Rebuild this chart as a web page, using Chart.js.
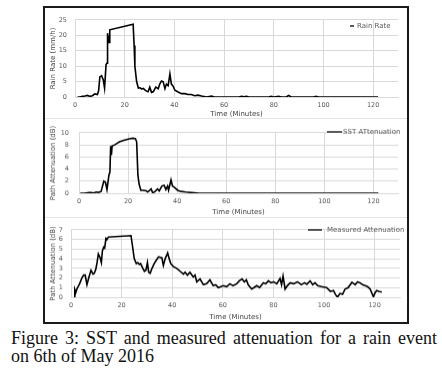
<!DOCTYPE html>
<html>
<head>
<meta charset="utf-8">
<script src="https://cdn.jsdelivr.net/npm/chart.js@4.4.1/dist/chart.umd.min.js"></script>
<style>
  html, body { margin: 0; padding: 0; background: #fff; width: 442px; height: 371px; overflow: hidden; }
  #box { position: absolute; left: 43px; top: 6px; width: 362px; height: 314px; border: 2px solid #1a1a1a; }
  canvas { position: absolute; left: 45px; }
  #c1 { top: 8px; }
  #c2 { top: 118px; border-top: 1px solid #e4e4e4; }
  #c3 { top: 217px; border-top: 1px solid #e4e4e4; }
  .cap { position: absolute; left: 11px; width: 426px; font: 18px "Liberation Serif", serif; line-height: 18px; color: #111; white-space: nowrap; }
  #cap1 { top: 329px; text-align: justify; text-align-last: justify; white-space: normal; }
  #cap2 { top: 347px; }
</style>
</head>
<body>
<div id="box"></div>
<canvas id="c1" width="362" height="110"></canvas>
<canvas id="c2" width="362" height="98"></canvas>
<canvas id="c3" width="362" height="104"></canvas>
<div class="cap" id="cap1">Figure 3: SST and measured attenuation for a rain event</div>
<div class="cap" id="cap2">on 6th of May 2016</div>
<script>
// time axis (minutes) shared by the three panels
const xTicks = [0, 20, 40, 60, 80, 100, 120];
const xTitle = 'Time (Minutes)';

// panel 1: rain rate
const rainTime = [
  1, 2, 3, 4, 5, 6, 7, 8, 9, 9.5,
  10, 10.7, 11.4, 11.9, 12.5, 12.9, 13.1, 13.7, 14, 23.4,
  23.8, 24.1, 24.8, 25.5, 26.2, 26.8, 27.5, 28.1, 28.8, 29.4,
  30.1, 30.8, 31.5, 32.5, 33.5, 34.1, 34.8, 35.5, 36.2, 36.8,
  37.5, 38.2, 38.8, 39.5, 40.2, 41.5, 42.8, 44.2, 45.5, 46.8,
  48.2, 49.5, 50.9, 53, 55, 56, 66, 67, 68, 69,
  70, 78, 79, 80, 82, 83, 85, 86, 87, 96,
  97, 98, 122
];
const rainRate = [
  0, 0, 0.2, 0.3, 0.5, 0.2, 0.4, 1.0, 0.8, 2.0,
  6.5, 6.9, 5.5, 2.9, 10.5, 11, 20.7, 17.7, 21.8, 23.6,
  16.7, 10, 5, 2.9, 3, 2.6, 2.8, 2.3, 1.9, 1.7,
  3.2, 1.5, 1.7, 3.2, 2.7, 4.2, 5.2, 4.9, 2.7, 4.2,
  3.7, 7.5, 4.2, 3.5, 2.2, 1.6, 1.1, 1.1, 0.8, 0.8,
  0.4, 0.6, 0.3, 0, 0.3, 0, 0, 0.2, 0.1, 0.2,
  0, 0, 0.2, 0, 0.2, 0, 0, 0.5, 0, 0,
  0.2, 0, 0
];
const rainTicks = [0, 5, 10, 15, 20, 25];

// panel 2: SST attenuation
const sstTime = [
  0.5, 2, 3, 4, 5, 6, 7, 8, 9, 9.6,
  10.1, 10.8, 11.4, 12.2, 12.6, 12.9, 13.2, 13.5, 14.5, 16.5,
  18.6, 20.6, 22, 23, 23.5, 24, 24.5, 25.2, 26, 27.4,
  28, 29.4, 30, 30.7, 32, 32.7, 33.8, 34.7, 35.4, 36.1,
  36.5, 37.5, 38.1, 38.8, 40.2, 41.5, 43.5, 46, 49, 122
];
const sstAtten = [
  0, 0, 0.05, 0.1, 0.1, 0.05, 0.2, 0.15, 0.3, 1.2,
  2.0, 1.8, 0.6, 3.0, 3.5, 7.8, 6.3, 7.8, 8.0, 8.5,
  8.8, 9.0, 9.1, 9.0, 8.5, 3.0, 1.5, 0.5, 0.5, 0.4,
  0.2, 0.7, 0.1, 0.2, 0.7, 0.4, 1.2, 1.3, 0.6, 1.2,
  0.5, 2.2, 1.2, 1.0, 0.5, 0.3, 0.2, 0.1, 0, 0
];
const sstTicks = [0, 2, 4, 6, 8, 10];

// panel 3: measured attenuation
const measTime = [
  1.2, 1.5, 1.9, 2.4, 3.4, 4.3, 5, 5.6, 6.3, 7,
  7.9, 8.7, 9.2, 9.8, 10.3, 10.8, 11.5, 12, 12.4, 12.9,
  13.3, 13.8, 14.2, 14.8, 23.7, 24.2, 25, 25.8, 26.4, 27,
  27.5, 28.4, 29, 29.6, 30.2, 30.7, 31.3, 32, 32.9, 33.6,
  34.6, 35.9, 36.5, 37.2, 38.2, 38.8, 39.4, 40.4, 41.8, 43.1,
  44.4, 45.1, 46, 47, 48.3, 49, 49.7, 51, 52.3, 53.6,
  54.9, 56.2, 57.2, 58.2, 59.2, 60.2, 61.5, 62.8, 64, 65.5,
  66.5, 67.6, 68.5, 69.3, 70, 71.4, 72.3, 73.4, 74.5, 76,
  77, 78, 79, 80, 81.3, 82.6, 83.2, 83.8, 84.6, 85.5,
  86.6, 88, 89.5, 91, 92.3, 93.2, 94.5, 95.5, 96.4, 97.5,
  99, 101, 102.5, 103.7, 104.5, 105.3, 106.3, 107.3, 108.3, 109.5,
  111, 112.3, 113.2, 114.2, 115.2, 116.2, 117.2, 118.2, 119.5, 120.2,
  120.8, 121.8, 122.8
];
const measAtten = [
  0, 0.8, 0.5, 0.9, 1.4, 2.0, 2.3, 2.3, 1.3, 2.0,
  2.8, 2.4, 2.5, 2.9, 3.6, 4.5, 4.1, 3.6, 4.8, 5.2,
  5.1, 6.1, 6.0, 6.25, 6.4, 5.5, 4.0, 3.5, 3.6, 3.4,
  3.5, 3.0, 2.7, 2.8, 3.6, 2.6, 2.5, 3.0, 3.5, 3.8,
  4.2, 4.1, 3.3, 4.0, 4.6, 4.0, 3.5, 3.2, 3.0, 2.7,
  2.4, 2.6, 2.3, 2.6, 2.1, 2.3, 1.6, 1.9, 1.3, 1.4,
  1.8, 1.2, 1.3, 1.0, 1.1, 1.2, 1.1, 1.4, 1.2, 1.4,
  1.7, 1.9, 1.6, 1.8, 1.3, 0.85, 1.0, 1.2, 1.0, 1.5,
  1.4, 1.7, 1.5, 1.6, 1.4, 1.95, 1.3, 2.2, 0.85, 1.2,
  1.5, 1.4, 1.6, 1.3, 1.5, 1.35, 1.7, 1.3, 1.5, 1.2,
  1.1, 1.0, 0.6, 0.7, 0.3, 0, 0.4, 0.3, 0.85, 1.0,
  1.55, 1.3, 1.6, 1.5, 1.3, 1.2, 1.1, 0.85, 0.05, 0.5,
  0.7, 0.6, 0.55
];
const measTicks = [0, 1, 2, 3, 4, 5, 6, 7];

const FONT = 'DejaVu Sans';
const GRID = '#d9d9d9';

// small legend drawn inside the plot, line + label
const keyPlugin = {
  id: 'key',
  afterDraw(chart, args, o) {
    const ds = chart.data.datasets[0];
    const ctx = chart.ctx;
    ctx.save();
    ctx.strokeStyle = '#000';
    ctx.lineWidth = 1.3;
    ctx.beginPath();
    ctx.moveTo(o.x, o.y);
    ctx.lineTo(o.x + o.len, o.y);
    ctx.stroke();
    ctx.fillStyle = '#595959';
    ctx.font = '7px "' + FONT + '"';
    ctx.textBaseline = 'middle';
    ctx.fillText(ds.label, o.x + o.len + o.gap, o.y);
    ctx.restore();
  }
};

function panel(id, times, values, label, yTicks, yTitle, lay) {
  const pts = times.map((t, i) => ({ x: t, y: values[i] }));
  return new Chart(document.getElementById(id), {
    type: 'line',
    data: { datasets: [{ label: label, data: pts, borderColor: '#000', borderWidth: 1.6, pointRadius: 0, tension: 0, fill: false }] },
    options: {
      responsive: false,
      animation: false,
      devicePixelRatio: 1,
      layout: { padding: { left: 0, right: lay.right, top: lay.top, bottom: 0 } },
      plugins: { legend: { display: false }, tooltip: { enabled: false }, key: lay.key },
      scales: {
        x: {
          type: 'linear', min: 0, max: 130,
          afterBuildTicks: s => { s.ticks = xTicks.map(v => ({ value: v })); },
          afterFit: s => { s.height = lay.xh; },
          grid: { color: GRID, lineWidth: 1, drawTicks: false },
          border: { color: GRID },
          ticks: { autoSkip: false, maxRotation: 0, padding: 4, color: '#595959', font: { family: FONT, size: 6.5 } },
          title: { display: true, text: xTitle, color: '#404040', padding: 0, font: { family: FONT, size: 7 } }
        },
        y: {
          min: yTicks[0], max: yTicks[yTicks.length - 1],
          afterBuildTicks: s => { s.ticks = yTicks.map(v => ({ value: v })); },
          afterFit: s => { s.width = lay.yw; },
          grid: { color: GRID, lineWidth: 1, drawTicks: false },
          border: { display: false },
          ticks: { autoSkip: false, padding: lay.ypad, color: '#595959', font: { family: FONT, size: 6.5 } },
          title: { display: true, text: yTitle, color: '#404040', padding: { top: 4, bottom: 0 }, font: { family: FONT, size: 7 } }
        }
      }
    },
    plugins: [keyPlugin]
  });
}

panel('c1', rainTime, rainRate, 'Rain Rate', rainTicks, 'Rain Rate (mm/h)',
  { right: 9, top: 7, xh: 21, yw: 30, ypad: 8, key: { x: 305, y: 18, len: 4, gap: 3 } });
panel('c2', sstTime, sstAtten, 'SST ATtenuation', sstTicks, 'Path Attenuation (dB)',
  { right: 9, top: 8, xh: 23, yw: 34, ypad: 10, key: { x: 282, y: 13, len: 15, gap: 1 } });
panel('c3', measTime, measAtten, 'Measured Attenuation', measTicks, 'Path Attenuation (dB)',
  { right: 7, top: 6, xh: 24, yw: 26, ypad: 8, key: { x: 263, y: 12, len: 14, gap: 5 } });
</script>
</body>
</html>
